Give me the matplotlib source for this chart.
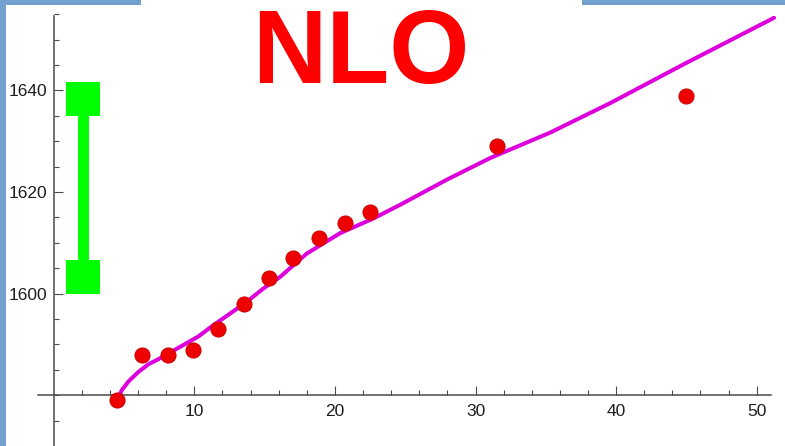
import matplotlib
matplotlib.use("Agg")
import matplotlib.pyplot as plt
from matplotlib.patches import Rectangle
from matplotlib.ticker import MultipleLocator, FixedLocator

plt.rcParams['font.family'] = ['Liberation Sans', 'DejaVu Sans']

# data points (red dots)
pts_x = [4.5, 6.3, 8.1, 9.9, 11.7, 13.5, 15.3, 17.0, 18.9, 20.7, 22.5, 31.5, 45.0]
pts_y = [1579, 1588, 1588, 1589, 1593, 1598, 1603, 1607, 1611, 1614, 1616, 1629, 1639]

# fitted curve (magenta)
curve_x = [4.59, 4.84, 5.31, 6.02, 6.73, 7.44, 8.39, 9.22, 10.3, 11.35, 12.5, 13.73,
           14.9, 16.1, 18.0, 20.36, 22.73, 24.64, 28.0, 31.04, 35.3, 39.57, 44.9, 51.23]
curve_y = [1579.4, 1581.0, 1582.7, 1584.6, 1586.1, 1587.1, 1588.6, 1589.9, 1591.6, 1593.8,
           1596.0, 1598.4, 1601.0, 1603.3, 1607.9, 1611.9, 1614.8, 1617.5, 1622.5, 1626.7,
           1631.7, 1637.5, 1645.3, 1654.3]

# green range bar
bar_x = 2.1
bar_lo = 1603.2
bar_hi = 1638.4

x_ticks = [10, 20, 30, 40, 50]
x_minor = [2, 4, 6, 8, 12, 14, 16, 18, 22, 24, 26, 28, 32, 34, 36, 38, 42, 44, 46, 48]
y_ticks = [1600, 1620, 1640]

W, H = 785, 446
fig = plt.figure(figsize=(W / 100, H / 100), dpi=100)
fig.patch.set_facecolor('white')
ax = fig.add_axes([0, 0, 1, 1])
ax.set_facecolor('white')

ax.set_xlim(-3.82, 52.01)
ax.set_ylim(1570.02, 1657.81)

for s in ['top', 'right']:
    ax.spines[s].set_visible(False)
ax.spines['left'].set_position(('data', 0))
ax.spines['bottom'].set_position(('data', 1580))
ax.spines['left'].set_bounds(1570.02, 1654.7)
ax.spines['bottom'].set_bounds(-1.1, 51.0)
for s in ['left', 'bottom']:
    ax.spines[s].set_color('#4a4a4a')
    ax.spines[s].set_linewidth(1.1)

ax.xaxis.set_major_locator(FixedLocator(x_ticks))
ax.xaxis.set_minor_locator(FixedLocator(x_minor))
ax.yaxis.set_major_locator(FixedLocator(y_ticks))
ax.yaxis.set_minor_locator(MultipleLocator(5))
ax.tick_params(axis='both', which='major', direction='in', length=6.5, width=0.8,
               color='#4a4a4a', labelsize=12.5, labelcolor='#1e1e1e')
ax.tick_params(axis='both', which='minor', direction='in', length=3.8, width=0.8,
               color='#4a4a4a')
ax.tick_params(axis='x', which='major', pad=6)
ax.tick_params(axis='y', which='major', pad=5)

# green bar
ax.plot([bar_x, bar_x], [bar_lo, bar_hi], color='#00ff00', lw=7.9, solid_capstyle='butt', zorder=3)
ax.plot([bar_x, bar_x], [bar_lo, bar_hi], ls='none', marker='s', ms=23.8, mew=0,
        color='#00ff00', zorder=3)

# curve
ax.plot(curve_x, curve_y, color='#dd00dd', lw=2.9, solid_capstyle='round',
        solid_joinstyle='round', zorder=4)

# points
ax.plot(pts_x, pts_y, ls='none', marker='o', ms=10.8, mfc='#ee0000', mec='#d00000',
        mew=0.8, zorder=5)

# NLO title
fig.text(361 / W, 1 - 83 / H, 'NLO', color='#ff0000', fontsize=74.2, fontweight='bold',
         ha='center', va='baseline', family=['Liberation Sans', 'DejaVu Sans'])

# blue slide borders
blue = '#74a0d0'
fig.patches.append(Rectangle((0, 0), 6 / W, 1, transform=fig.transFigure,
                             facecolor=blue, edgecolor='none', zorder=10))
fig.patches.append(Rectangle((0, 1 - 5 / H), 141 / W, 5 / H, transform=fig.transFigure,
                             facecolor=blue, edgecolor='none', zorder=10))
fig.patches.append(Rectangle((582 / W, 1 - 5 / H), (W - 582) / W, 5 / H,
                             transform=fig.transFigure, facecolor=blue, edgecolor='none',
                             zorder=10))

fig.savefig('out.png', dpi=100)
